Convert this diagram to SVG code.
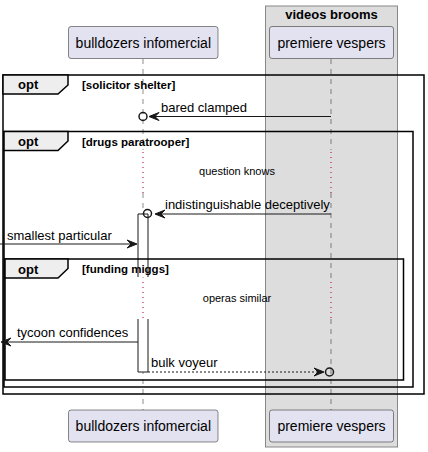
<svg xmlns="http://www.w3.org/2000/svg" width="428" height="452" viewBox="0 0 428 452">
<style>
text{font-family:"Liberation Sans",Arial,sans-serif;fill:#000}
.pbox{fill:#E2E2F0;stroke:#181818;stroke-width:0.5}
.pname{font-size:14px;text-anchor:middle}
.life{stroke:#181818;stroke-width:0.5;stroke-dasharray:5,5;fill:none}
.delay{stroke:#A80036;stroke-width:1;stroke-dasharray:1,4;fill:none}
.frame{fill:none;stroke:#000;stroke-width:1.5}
.tab{fill:#EEEEEE;stroke:#000;stroke-width:1.5}
.kw{font-size:13px;font-weight:bold}
.cond{font-size:11.5px;font-weight:bold}
.msg{stroke:#181818;stroke-width:1;fill:none}
.head{fill:#181818;stroke:#181818;stroke-width:1}
.circ{fill:none;stroke:#181818;stroke-width:1.5}
.mtxt{font-size:13px}
.note{font-size:11px;text-anchor:middle}
.act{fill:#fff;stroke:none}
.actl{fill:none;stroke:#181818;stroke-width:1}
</style>
<g id="box-videos-brooms">
<rect x="265.5" y="6" width="132" height="441" fill="#DDDDDD" stroke="#888888" stroke-width="1"/>
<text x="331.5" y="19" font-size="13" font-weight="bold" text-anchor="middle">videos brooms</text>
</g>
<g id="lifelines">
<path class="life" d="M143,59V150M143,193V280M143,319V410"/>
<path class="delay" d="M143,152V193M143,282V319"/>
<path class="life" d="M331,59V150M331,193V280M331,319V410"/>
<path class="delay" d="M331,152V193M331,282V319"/>
</g>
<g id="p-bulldozers">
<rect class="pbox" x="68.5" y="26.5" width="149.5" height="32" rx="2.5"/>
<text class="pname" x="143.3" y="47.5">bulldozers infomercial</text>
<rect class="pbox" x="68.5" y="410" width="149.5" height="32" rx="2.5"/>
<text class="pname" x="143.3" y="431">bulldozers infomercial</text>
</g>
<g id="p-premiere">
<rect class="pbox" x="269.5" y="26.5" width="124" height="32" rx="2.5"/>
<text class="pname" x="331.5" y="47.5">premiere vespers</text>
<rect class="pbox" x="269.5" y="410" width="124" height="32" rx="2.5"/>
<text class="pname" x="331.5" y="431">premiere vespers</text>
</g>
<g id="activation">
<rect class="act" x="138" y="214" width="10" height="63"/>
<path class="actl" d="M138,277V214H148V277"/>
<rect class="act" x="138" y="319" width="10" height="53"/>
<path class="actl" d="M138,319V372H148V319"/>
</g>
<g id="frames">
<rect class="frame" x="3" y="75" width="421" height="319"/>
<polygon class="tab" points="3,75 68,75 68,85 58,94 3,94"/>
<text class="kw" x="18" y="89">opt</text>
<text class="cond" x="82" y="89">[solicitor shelter]</text>
<rect class="frame" x="4" y="131.5" width="409" height="255.5"/>
<polygon class="tab" points="4,131.5 68,131.5 68,141 58,150.5 4,150.5"/>
<text class="kw" x="18" y="146">opt</text>
<text class="cond" x="82" y="145.5">[drugs paratrooper]</text>
<rect class="frame" x="5" y="259" width="398.5" height="121"/>
<polygon class="tab" points="5,259 68,259 68,268.5 58,278 5,278"/>
<text class="kw" x="18" y="273.5">opt</text>
<text class="cond" x="82" y="273">[funding miggs]</text>
</g>
<g id="notes">
<text class="note" x="237" y="175">question knows</text>
<text class="note" x="237" y="302">operas similar</text>
</g>
<g id="connectors">
<line class="msg" x1="331" y1="116.5" x2="150" y2="116.5"/>
<polygon class="head" points="149,116.5 159,112.5 155,116.5 159,120.5"/>
<circle class="circ" cx="143" cy="116.5" r="4"/>
<text class="mtxt" x="161" y="112">bared clamped</text>

<line class="msg" x1="331" y1="214" x2="156" y2="214"/>
<polygon class="head" points="155,214 165,210 161,214 165,218"/>
<circle class="circ" cx="147.5" cy="213.5" r="4"/>
<text class="mtxt" x="165" y="209">indistinguishable deceptively</text>

<line class="msg" x1="0" y1="244" x2="136" y2="244"/>
<polygon class="head" points="137,244 127,240 131,244 127,248"/>
<text class="mtxt" x="7" y="240">smallest particular</text>

<line class="msg" x1="138" y1="342" x2="2" y2="342"/>
<polygon class="head" points="1,342 11,338 7,342 11,346"/>
<text class="mtxt" x="17" y="337">tycoon confidences</text>

<line class="msg" x1="148" y1="372" x2="322" y2="372" stroke-dasharray="2,2"/>
<polygon class="head" points="324,372 314,368 318,372 314,376"/>
<circle class="circ" cx="329.5" cy="372" r="4"/>
<text class="mtxt" x="151" y="367">bulk voyeur</text>
</g>
</svg>
